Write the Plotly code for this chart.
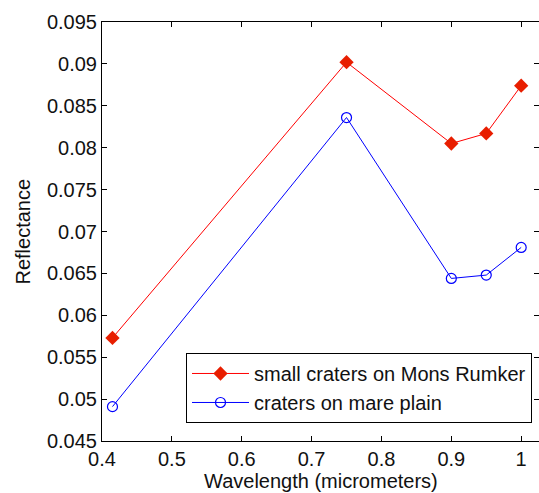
import plotly.graph_objects as go

wavelength = [0.415, 0.75, 0.9, 0.95, 1.0]
mons_rumker = [0.0573, 0.0902, 0.0805, 0.0817, 0.0874]
mare_plain = [0.0491, 0.0836, 0.0644, 0.0648, 0.0681]
y_ticks = [0.045, 0.05, 0.055, 0.06, 0.065, 0.07, 0.075, 0.08, 0.085, 0.09, 0.095]
y_tick_text = ["0.045", "0.05", "0.055", "0.06", "0.065", "0.07", "0.075", "0.08", "0.085", "0.09", "0.095"]
x_ticks = [0.4, 0.5, 0.6, 0.7, 0.8, 0.9, 1.0]
x_tick_text = ["0.4", "0.5", "0.6", "0.7", "0.8", "0.9", "1"]

font = "Liberation Sans, Arial, sans-serif"
FS = 20

fig = go.Figure()
fig.add_trace(go.Scatter(
    x=wavelength, y=mons_rumker, mode="lines+markers",
    name="small craters on Mons Rumker",
    line=dict(color="#ff0000", width=1),
    marker=dict(symbol="diamond", size=11, color="#e81e00", line=dict(width=0)),
))
fig.add_trace(go.Scatter(
    x=wavelength, y=mare_plain, mode="lines+markers",
    name="craters on mare plain",
    line=dict(color="#0000ff", width=1),
    marker=dict(symbol="circle-open", size=10, color="#0000ff", line=dict(width=1.2)),
))

axis_common = dict(
    showline=True, linecolor="black", linewidth=1, mirror="ticks",
    ticks="inside", ticklen=5, tickwidth=1, tickcolor="black",
    showgrid=False, zeroline=False,
    tickfont=dict(family=font, size=FS, color="#111111"),
)

fig.update_layout(
    width=539, height=493,
    margin=dict(l=102, r=0, t=22, b=52),
    paper_bgcolor="white", plot_bgcolor="white",
    xaxis=dict(range=[0.4, 1.0255], tickvals=x_ticks, ticktext=x_tick_text, **axis_common),
    yaxis=dict(range=[0.045, 0.095], tickvals=y_ticks, ticktext=y_tick_text, **axis_common),
    legend=dict(
        x=0.984, y=0.043, xanchor="right", yanchor="bottom",
        bordercolor="black", borderwidth=1, bgcolor="white",
        font=dict(family=font, size=FS, color="#111111"),
        tracegroupgap=0, itemwidth=57,
    ),
    annotations=[
        dict(text="Wavelength (micrometers)", xref="paper", yref="paper",
             x=0.5, y=0, yshift=-40, xanchor="center", yanchor="middle",
             showarrow=False, font=dict(family=font, size=FS, color="#111111")),
        dict(text="Reflectance", xref="paper", yref="paper",
             x=0, y=0.5, xshift=-80, xanchor="center", yanchor="middle", textangle=-90,
             showarrow=False, font=dict(family=font, size=FS, color="#111111")),
    ],
)

fig.write_html("out.html", config={"displayModeBar": False},
               post_script="document.body.style.margin='0px';")
